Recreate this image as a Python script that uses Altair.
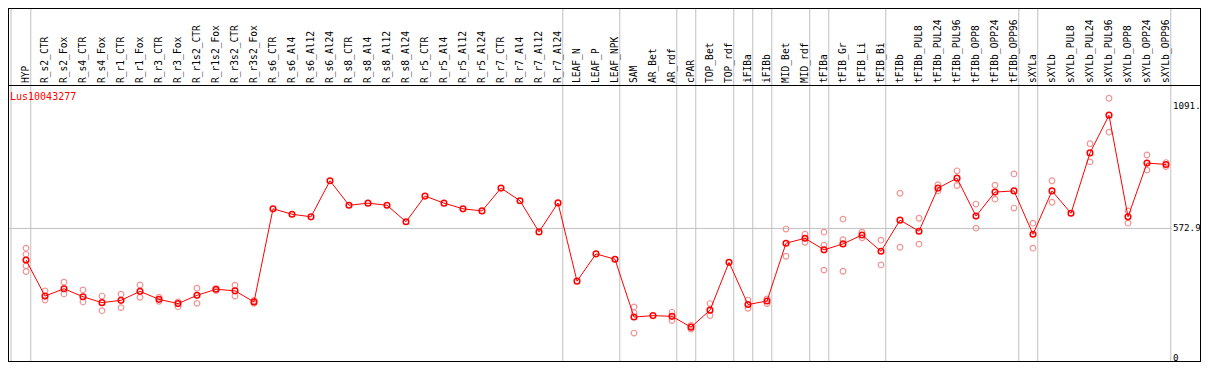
import altair as alt
import pandas as pd

categories = [
    "HYP", "R_s2_CTR", "R_s2_Fox", "R_s4_CTR", "R_s4_Fox", "R_r1_CTR", "R_r1_Fox",
    "R_r3_CTR", "R_r3_Fox", "R_r1s2_CTR", "R_r1s2_Fox", "R_r3s2_CTR", "R_r3s2_Fox",
    "R_s6_CTR", "R_s6_Al4", "R_s6_Al12", "R_s6_Al24", "R_s8_CTR", "R_s8_Al4",
    "R_s8_Al12", "R_s8_Al24", "R_r5_CTR", "R_r5_Al4", "R_r5_Al12", "R_r5_Al24",
    "R_r7_CTR", "R_r7_Al4", "R_r7_Al12", "R_r7_Al24", "LEAF_N", "LEAF_P", "LEAF_NPK",
    "SAM", "AR_Bet", "AR_rdf", "cPAR", "TOP_Bet", "TOP_rdf", "iFIBa", "iFIBb",
    "MID_Bet", "MID_rdf", "tFIBa", "tFIB_Gr", "tFIB_Li", "tFIB_Bi", "tFIBb",
    "tFIBb_PUL8", "tFIBb_PUL24", "tFIBb_PUL96", "tFIBb_OPP8", "tFIBb_OPP24",
    "tFIBb_OPP96", "sXYLa", "sXYLb", "sXYLb_PUL8", "sXYLb_PUL24", "sXYLb_PUL96",
    "sXYLb_OPP8", "sXYLb_OPP24", "sXYLb_OPP96",
]

mean_values = [
    439, 286, 317, 283, 258, 268, 306, 272, 254, 289, 315, 308, 261,
    656, 633, 622, 775, 671, 680, 671, 601, 710, 680, 656, 647, 744, 690, 558, 681,
    349, 465, 442,
    197, 203, 200, 154, 226, 429, 250, 265, 510, 531, 482, 507, 545, 476,
    608, 561, 744, 786, 625, 727, 732,
    548, 732, 637, 893, 1053, 622, 850, 844,
]

rep_categories = [
    "HYP", "HYP", "HYP", "HYP",
    "R_s2_CTR", "R_s2_CTR", "R_s2_Fox", "R_s2_Fox", "R_s4_CTR", "R_s4_CTR",
    "R_s4_Fox", "R_s4_Fox", "R_r1_CTR", "R_r1_CTR", "R_r1_Fox", "R_r1_Fox",
    "R_r3_CTR", "R_r3_CTR", "R_r3_Fox", "R_r3_Fox", "R_r1s2_CTR", "R_r1s2_CTR",
    "R_r1s2_Fox", "R_r1s2_Fox", "R_r3s2_CTR", "R_r3s2_CTR", "R_r3s2_Fox", "R_r3s2_Fox",
    "SAM", "SAM", "SAM", "AR_rdf", "AR_rdf", "cPAR", "cPAR", "TOP_Bet", "TOP_Bet",
    "iFIBa", "iFIBa", "iFIBb", "iFIBb", "MID_Bet", "MID_Bet", "MID_rdf", "MID_rdf",
    "tFIBa", "tFIBa", "tFIBa", "tFIB_Gr", "tFIB_Gr", "tFIB_Gr", "tFIB_Li", "tFIB_Li",
    "tFIB_Bi", "tFIB_Bi", "tFIBb", "tFIBb", "tFIBb_PUL8", "tFIBb_PUL8",
    "tFIBb_PUL24", "tFIBb_PUL24", "tFIBb_PUL96", "tFIBb_PUL96", "tFIBb_OPP8", "tFIBb_OPP8",
    "tFIBb_OPP24", "tFIBb_OPP24", "tFIBb_OPP96", "tFIBb_OPP96", "sXYLa", "sXYLa",
    "sXYLb", "sXYLb", "sXYLb_PUL24", "sXYLb_PUL24", "sXYLb_PUL96", "sXYLb_PUL96",
    "sXYLb_OPP8", "sXYLb_OPP8", "sXYLb_OPP24", "sXYLb_OPP24", "sXYLb_OPP96", "sXYLb_OPP96",
]

rep_values = [
    489, 463, 414, 390,
    308, 269, 345, 295, 312, 261,
    286, 224, 294, 237, 333, 281,
    281, 264, 261, 241, 319, 255,
    317, 309, 332, 286, 267, 255,
    240, 216, 129, 217, 182, 161, 146, 254, 203,
    269, 234, 274, 254, 570, 455, 548, 514,
    557, 502, 396, 612, 525, 391, 557, 533,
    523, 418, 722, 493, 616, 506,
    758, 732, 817, 755, 676, 574,
    756, 697, 804, 659, 595, 489,
    775, 684, 932, 855, 1125, 981,
    647, 595, 884, 820, 852, 835,
]

group_ends = [
    "HYP", "R_r7_Al24", "LEAF_NPK", "AR_rdf", "cPAR", "TOP_rdf", "iFIBa", "iFIBb",
    "MID_rdf", "tFIBa", "tFIB_Bi", "tFIBb_OPP96", "sXYLa", "sXYLb_OPP96",
]

tick_values = [572.9, 1091]
tick_labels = ["572.9", "1091."]
zero_value = [0]
zero_label = ["0"]
title_text = "Lus10043277"

W, H = 1193, 354
MONO = "DejaVu Sans Mono"

idx = {c: i for i, c in enumerate(categories)}
df = pd.DataFrame({"cat": categories, "idx": list(range(len(categories))), "val": mean_values})
reps = pd.DataFrame({"cat": rep_categories, "val": rep_values})
reps["idx"] = reps["cat"].map(idx)
seps = pd.DataFrame({"pos": [-0.79] + [idx[c] + 0.25 for c in group_ends]})
ticks = pd.DataFrame({"v": tick_values, "lab": tick_labels})
zero = pd.DataFrame({"v": zero_value, "lab": zero_label})

# outer frame (pixel geometry of the panel border)
frame = pd.DataFrame({
    "x": [0.5, W - 0.5, 0, 0],
    "x2": [0.5, W - 0.5, W, W],
    "y": [0, 0, 0.5, H - 0.5],
    "y2": [H, H, 0.5, H - 0.5],
})

xs = alt.Scale(domain=[-18 / 19, (W - 18) / 19], nice=False, zero=False)
ys = alt.Scale(domain=[1507.6 - H / 0.2358, 1507.6], nice=False, zero=False)

X = alt.X("idx:Q", scale=xs, axis=None)
Y = alt.Y("val:Q", scale=ys, axis=None)

sep = alt.Chart(seps).mark_rule(color="#c0c0c0", strokeWidth=1).encode(
    x=alt.X("pos:Q", scale=xs, axis=None), y=alt.value(0), y2=alt.value(H)
)

grid = alt.Chart(pd.DataFrame({"v": [tick_values[0]]})).mark_rule(
    color="#c0c0c0", strokeWidth=1
).encode(y=alt.Y("v:Q", scale=ys, axis=None), x=alt.value(0), x2=alt.value(1164))

hline = alt.Chart(pd.DataFrame({"a": [0]})).mark_rule(color="black", strokeWidth=1).encode(
    y=alt.value(77.5), x=alt.value(0), x2=alt.value(W)
)

border = alt.Chart(frame).mark_rule(color="black", strokeWidth=1).encode(
    x=alt.X("x:Q", scale=None), x2="x2:Q",
    y=alt.Y("y:Q", scale=None), y2="y2:Q",
)

labels = alt.Chart(df).mark_text(
    angle=270, align="left", baseline="middle", font=MONO, fontSize=9.6, color="black"
).encode(x=X, y=alt.value(75), text="cat:N")

title = alt.Chart(pd.DataFrame({"t": [title_text]})).mark_text(
    align="left", baseline="middle", font=MONO, fontSize=10, color="red"
).encode(x=alt.value(2), y=alt.value(88.7), text="t:N")

tick_text = alt.Chart(ticks).mark_text(
    align="left", baseline="middle", font=MONO, fontSize=9.2, color="black"
).encode(x=alt.value(1165), y=alt.Y("v:Q", scale=ys, axis=None), text="lab:N")

zero_text = alt.Chart(zero).mark_text(
    align="left", baseline="middle", font=MONO, fontSize=9.2, color="black", dy=-5
).encode(x=alt.value(1165), y=alt.Y("v:Q", scale=ys, axis=None), text="lab:N")

rep_pts = alt.Chart(reps).mark_point(
    shape="circle", size=32, filled=False, color="#f09494", strokeWidth=1.2, opacity=1
).encode(x=X, y=Y)

line = alt.Chart(df).mark_line(color="red", strokeWidth=1).encode(
    x=X, y=Y, order="idx:Q"
)

mean_pts = alt.Chart(df).mark_point(
    shape="circle", size=32, filled=False, color="red", strokeWidth=1.5, opacity=1
).encode(x=X, y=Y)

chart = alt.layer(
    sep, grid, hline, border, labels, title, tick_text, zero_text, rep_pts, line, mean_pts
).properties(
    width=W, height=H, autosize=alt.AutoSizeParams(type="none"), padding=0,
    background="white",
).configure_view(stroke=None)

chart.save("out.html", embed_options={"renderer": "svg", "actions": False})
